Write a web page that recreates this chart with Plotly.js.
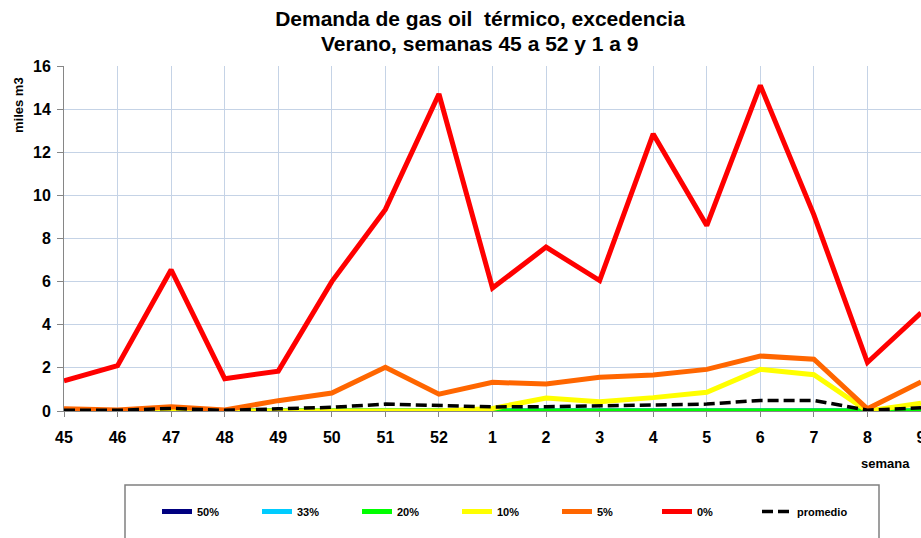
<!DOCTYPE html>
<html>
<head>
<meta charset="utf-8">
<script src="https://cdn.plot.ly/plotly-3.0.1.min.js"></script>
<style>html,body{margin:0;padding:0;background:#fff;}#chart{width:921px;height:538px;}</style>
</head>
<body>
<div id="chart"></div>
<script>
var weeks = ["45","46","47","48","49","50","51","52","1","2","3","4","5","6","7","8","9"];
var exc50 = [0,0,0,0,0,0,0,0,0,0,0,0,0,0,0,0,0];
var exc33 = [0,0,0,0,0,0,0,0,0,0,0,0,0,0,0,0,0];
var exc20 = [0,0,0,0,0,0,0,0,0,0,0,0,0,0,0,0,0];
var exc10 = [0,0,0,0,0,0,0,0,0.12,0.6,0.43,0.62,0.87,1.93,1.68,0,0.36];
var exc5  = [0.1,0.05,0.2,0.05,0.48,0.83,2.03,0.78,1.33,1.25,1.56,1.67,1.93,2.55,2.4,0.1,1.35];
var exc0  = [1.4,2.1,6.55,1.5,1.85,6.0,9.35,14.7,5.7,7.6,6.05,12.85,8.6,15.1,9.1,2.25,4.55];
var promedio = [0.03,0.03,0.12,0.03,0.1,0.17,0.32,0.27,0.19,0.2,0.23,0.28,0.32,0.49,0.49,0.04,0.15];

var names = ["50%","33%","20%","10%","5%","0%"];
var series = [exc50, exc33, exc20, exc10, exc5, exc0];
var colors = ["#000080","#00CCFF","#00FF00","#FFFF00","#FF6600","#FF0000"];

var traces = series.map(function(s, i){
  return {x: weeks, y: s, name: names[i], type: 'scatter', mode: 'lines',
          line: {color: colors[i], width: 5}};
});
traces.push({x: weeks, y: promedio, name: 'promedio', type: 'scatter', mode: 'lines',
             line: {color: '#000000', width: 3.5, dash: '11px,5px'}});

var F = 'Liberation Sans, Arial, sans-serif';
var L = 64, T = 66, B = 127, W = 921, H = 538;
var pw = W - L, ph = H - T - B;
function px(x){ return (x - L) / pw; }
function py(y){ return (H - B - y) / ph; }

var layout = {
  width: W, height: H,
  margin: {l: L, r: 0, t: T, b: B, pad: 0, autoexpand: false},
  paper_bgcolor: '#ffffff', plot_bgcolor: '#ffffff',
  font: {family: F, color: '#000'},
  showlegend: true,
  legend: {orientation: 'h', x: px(157), xanchor: 'left', y: py(497), yanchor: 'top',
           font: {family: F, size: 11, weight: 'bold'}, entrywidth: 55, entrywidthmode: 'pixels',
           bgcolor: 'rgba(0,0,0,0)', borderwidth: 0, traceorder: 'normal'},
  xaxis: {type: 'category', categoryorder: 'array', categoryarray: weeks, range: [0, 16],
          showgrid: true, gridcolor: '#C5D3E6', gridwidth: 1, automargin: false,
          showline: true, linecolor: '#868686', linewidth: 1,
          ticks: 'outside', ticklen: 5, tickcolor: '#868686', ticklabelstandoff: 7,
          tickfont: {family: F, size: 16, weight: 'bold'}, zeroline: false},
  yaxis: {range: [0, 16], dtick: 2, tick0: 0, automargin: false,
          showgrid: true, gridcolor: '#C5D3E6', gridwidth: 1,
          showline: true, linecolor: '#868686', linewidth: 1,
          ticks: 'outside', ticklen: 6, tickcolor: '#868686', ticklabelstandoff: 3,
          tickfont: {family: F, size: 16, weight: 'bold'}, zeroline: false},
  title: {text: 'Demanda de gas oil  térmico, excedencia', x: 480 / W, xanchor: 'center',
          y: 1 - 19 / H, yanchor: 'middle', automargin: false,
          font: {family: F, size: 21, weight: 'bold', color: '#000'}},
  annotations: [
    {text: 'Verano, semanas 45 a 52 y 1 a 9', xref: 'paper', yref: 'paper',
     x: px(480), y: py(43), xanchor: 'center', yanchor: 'middle', showarrow: false,
     font: {family: F, size: 21, weight: 'bold', color: '#000'}},
    {text: 'miles m3', xref: 'paper', yref: 'paper', x: px(18), y: py(105),
     xanchor: 'center', yanchor: 'middle', textangle: -90, showarrow: false,
     font: {family: F, size: 13, weight: 'bold', color: '#000'}},
    {text: 'semana', xref: 'paper', yref: 'paper', x: px(885), y: py(463),
     xanchor: 'center', yanchor: 'middle', showarrow: false,
     font: {family: F, size: 13, weight: 'bold', color: '#000'}}
  ],
  shapes: [
    {type: 'rect', xref: 'paper', yref: 'paper', x0: px(125), x1: px(879), y0: py(485), y1: py(548),
     line: {color: '#808080', width: 1.5}, fillcolor: 'rgba(0,0,0,0)'}
  ]
};

Plotly.newPlot('chart', traces, layout, {displayModeBar: false, staticPlot: true});
</script>
</body>
</html>
